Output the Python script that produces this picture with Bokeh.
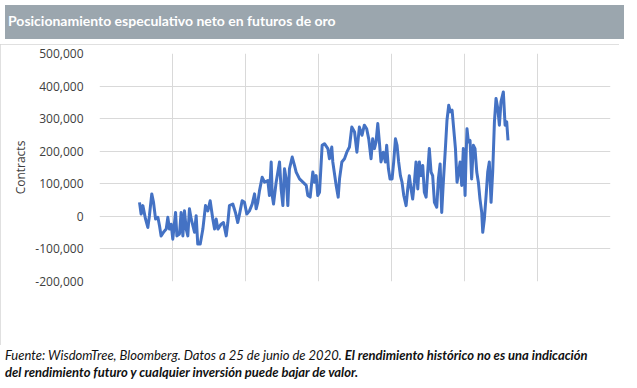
from bokeh.plotting import figure
from bokeh.models import Div, FixedTicker, NumeralTickFormatter, Range1d
from bokeh.layouts import column
from bokeh.embed import file_html
from bokeh.resources import INLINE

title_text = "Posicionamiento especulativo neto en futuros de oro"
y_label = "Contracts"
source_line1 = "Fuente: WisdomTree, Bloomberg. Datos a 25 de junio de 2020. "
source_bold1 = "El rendimiento histórico no es una indicación"
source_bold2 = "del rendimiento futuro y cualquier inversión puede bajar de valor."

# decimal years (weekly CFTC data)
years = [
    1995.21, 1995.32, 1995.44, 1995.62, 1995.78, 1995.89, 1996.05, 1996.17, 1996.31, 1996.47,
    1996.58, 1996.69, 1996.85, 1997.04, 1997.15, 1997.26, 1997.38, 1997.49, 1997.68, 1997.77,
    1997.95, 1998.06, 1998.18, 1998.29, 1998.41, 1998.52, 1998.63, 1998.75, 1998.98, 1999.09,
    1999.20, 1999.37, 1999.55, 1999.73, 1999.89, 2000.05, 2000.23, 2000.35, 2000.46, 2000.58,
    2000.80, 2000.96, 2001.15, 2001.26, 2001.37, 2001.60, 2001.78, 2001.94, 2002.06, 2002.24,
    2002.40, 2002.56, 2002.74, 2002.93, 2003.09, 2003.20, 2003.31, 2003.43, 2003.61, 2003.77,
    2004.00, 2004.11, 2004.23, 2004.30, 2004.39, 2004.57, 2004.80, 2004.91, 2005.03, 2005.14,
    2005.26, 2005.37, 2005.48, 2005.67, 2005.83, 2005.94, 2006.17, 2006.40, 2006.63, 2006.74,
    2006.90, 2007.08, 2007.20, 2007.31, 2007.42, 2007.54, 2007.72, 2007.88, 2008.11, 2008.22,
    2008.38, 2008.45, 2008.68, 2008.82, 2008.91, 2009.07, 2009.25, 2009.41, 2009.59, 2009.75,
    2009.94, 2010.10,
    2010.27, 2010.45, 2010.61, 2010.77, 2010.91, 2011.07, 2011.18, 2011.30, 2011.41, 2011.53,
    2011.64, 2011.75, 2011.91, 2012.05, 2012.14, 2012.26, 2012.37, 2012.51, 2012.62, 2012.74,
    2012.85, 2012.96, 2013.08, 2013.19, 2013.31, 2013.47, 2013.58, 2013.69, 2013.81, 2013.92,
    2014.04, 2014.15, 2014.27, 2014.38, 2014.49, 2014.61, 2014.72, 2014.84, 2014.95, 2015.06,
    2015.18, 2015.29, 2015.41, 2015.57, 2015.68, 2015.80, 2015.91, 2016.02, 2016.16, 2016.27,
    2016.39, 2016.50, 2016.62, 2016.73, 2016.85, 2016.96, 2017.07, 2017.17, 2017.28, 2017.39,
    2017.51, 2017.58, 2017.64, 2017.74, 2017.85, 2017.96, 2018.08, 2018.19, 2018.31, 2018.42,
    2018.53, 2018.65, 2018.72, 2018.83, 2018.95, 2019.06, 2019.17, 2019.29, 2019.40, 2019.52,
    2019.63, 2019.75, 2019.86, 2019.97, 2020.13, 2020.25, 2020.36, 2020.45,
]

# net speculative position, thousands of contracts
net_k = [
    43, 7, 33, -8, -34, 2, 69, 43, -8, -3,
    -29, -60, -49, -39, -3, -39, -24, -70, 12, -60,
    -54, 12, -60, 17, -39, -60, 23, -8, -49, 2,
    -85, -85, -39, 33, 17, 48, -8, -39, -8, -39,
    -24, -19, -60, -19, 33, 38, 12, -19, 7, 48,
    43, 7, 17, 38, 69, 23, 43, 79, 120, 105,
    110, 64, 167, 64, 38, 105, 167, 84, 33, 146,
    115, 33, 146, 182, 156, 136, 115, 105, 95, 64,
    59, 136, 105, 125, 64, 74, 218, 223, 208, 177,
    213, 167, 95, 59, 115, 167, 177, 197, 213, 274,
    259, 197,
    274, 249, 280, 269, 238, 177, 238, 208, 228, 285,
    228, 167, 197, 167, 218, 146, 115, 115, 167, 238,
    218, 167, 125, 105, 64, 33, 84, 125, 84, 53,
    105, 167, 84, 167, 125, 156, 74, 59, 136, 208,
    136, 125, 43, 28, 115, 161, 12, 105, 208, 295,
    341, 321, 326, 269, 208, 105, 136, 167, 95, 208,
    64, 187, 269, 228, 233, 115, 218, 208, 136, 105,
    53, 12, -49, -8, 64, 136, 167, 43, 136, 290,
    362, 331, 280, 352, 382, 280, 290, 233,
]
net = [v * 1000 for v in net_k]

y_ticks = [-200000, -100000, 0, 100000, 200000, 300000, 400000, 500000]
x_start, x_step, x_intervals = 1992.47, 5, 7
x_grid = [x_start + x_step * k for k in range(1, x_intervals)]

W = 619

header = Div(
    text=f'<div style="padding:6px 0 0 3px; font-family:Lato; font-weight:bold; '
         f'font-size:14px; color:white; white-space:nowrap;">{title_text}</div>',
    width=W, height=34,
    styles={"background-color": "#9ba6ae"},
)

p = figure(
    width=W, height=301,
    x_range=Range1d(x_start, x_start + x_step * x_intervals),
    y_range=Range1d(-200000, 500000),
    x_axis_location=None,
    output_backend="svg", toolbar_location=None,
    min_border_left=99, min_border_right=9, min_border_top=9, min_border_bottom=64,
)
p.styles = {"outline": "1px solid #d6d6d6", "outline-offset": "-1px"}
p.outline_line_color = None
p.background_fill_color = "white"
p.border_fill_color = "white"

p.xgrid.ticker = FixedTicker(ticks=x_grid)
p.xgrid.grid_line_color = "#d9d9d9"
p.xgrid.grid_line_width = 1

p.yaxis.ticker = FixedTicker(ticks=y_ticks)
p.yaxis.formatter = NumeralTickFormatter(format="0,0")
p.yaxis.axis_line_color = None
p.yaxis.major_tick_line_color = None
p.yaxis.minor_tick_line_color = None
p.yaxis.major_label_text_font = "Open Sans"
p.yaxis.major_label_text_font_size = "12px"
p.yaxis.major_label_text_color = "#404040"
p.yaxis.major_label_standoff = 10
p.yaxis.axis_label = y_label
p.yaxis.axis_label_text_font = "Open Sans"
p.yaxis.axis_label_text_font_size = "12px"
p.yaxis.axis_label_text_font_style = "normal"
p.yaxis.axis_label_text_color = "#404040"
p.yaxis.axis_label_standoff = 3
p.ygrid.grid_line_color = "#d9d9d9"
p.ygrid.grid_line_width = 1

p.line(years, net, line_color="#4472C4", line_width=3, line_join="round")

footer = Div(
    text=f'<div style="margin-top:-3px; font-family:Lato; font-style:italic; font-size:13px; '
         f'line-height:17px; color:#111; white-space:nowrap;">{source_line1}<b>{source_bold1}</b><br>'
         f'<b>{source_bold2}</b></div>',
    width=W, height=45,
)

layout = column(header, p, footer, spacing=0)

open("out.html", "w").write(file_html(layout, INLINE))
